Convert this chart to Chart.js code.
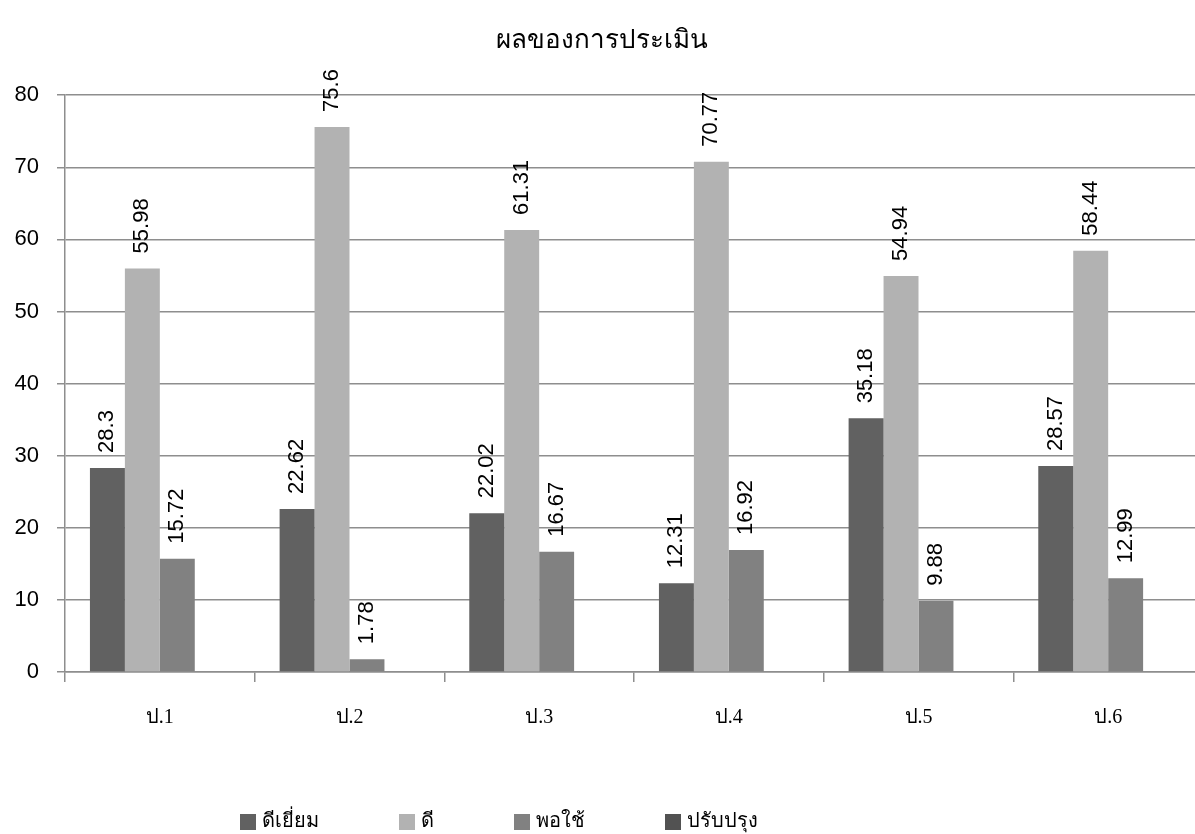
<!DOCTYPE html>
<html>
<head>
<meta charset="utf-8">
<script src="https://cdn.jsdelivr.net/npm/chart.js@4/dist/chart.umd.min.js"></script>
<style>
  html, body { margin: 0; padding: 0; background: #fff; overflow: hidden; }
  #wrap { width: 1203px; height: 834px; position: relative; }
</style>
</head>
<body>
<div id="wrap"><canvas id="resultChart"></canvas></div>
<script>
const grades = ['ป.1', 'ป.2', 'ป.3', 'ป.4', 'ป.5', 'ป.6'];
const excellent = [28.3, 22.62, 22.02, 12.31, 35.18, 28.57];
const good = [55.98, 75.6, 61.31, 70.77, 54.94, 58.44];
const fair = [15.72, 1.78, 16.67, 16.92, 9.88, 12.99];
const improve = [null, null, null, null, null, null];
const seriesNames = ['ดีเยี่ยม', 'ดี', 'พอใช้', 'ปรับปรุง'];
const seriesColors = ['#616161', '#b2b2b2', '#818181', '#525252'];

const gridColor = '#8e8e8e';

// value labels, rotated, just above each bar
const barLabels = {
  id: 'barLabels',
  afterDatasetsDraw(chart) {
    const ctx = chart.ctx;
    ctx.save();
    ctx.fillStyle = '#000';
    ctx.font = '22px "Liberation Sans", sans-serif';
    chart.data.datasets.forEach((ds, i) => {
      const meta = chart.getDatasetMeta(i);
      meta.data.forEach((bar, j) => {
        const v = ds.data[j];
        if (v == null) return;
        ctx.save();
        ctx.translate(bar.x, bar.y - 15);
        ctx.rotate(-Math.PI / 2);
        ctx.textAlign = 'left';
        ctx.textBaseline = 'middle';
        ctx.fillText(String(v), 0, 0);
        ctx.restore();
      });
    });
    ctx.restore();
  }
};

// legend row at the bottom, laid out like the original
const bottomLegend = {
  id: 'bottomLegend',
  afterDraw(chart) {
    const ctx = chart.ctx;
    ctx.save();
    ctx.font = '20px "DejaVu Sans", sans-serif';
    ctx.textBaseline = 'middle';
    let x = 240;
    const y = 822;
    chart.data.datasets.forEach(ds => {
      ctx.fillStyle = ds.backgroundColor;
      ctx.fillRect(x, y - 8, 16, 16);
      ctx.fillStyle = '#000';
      ctx.fillText(ds.label, x + 22, y);
      x += 22 + ctx.measureText(ds.label).width + 80;
    });
    ctx.restore();
  }
};

const ctx = document.getElementById('resultChart').getContext('2d');
new Chart(ctx, {
  type: 'bar',
  data: {
    labels: grades,
    datasets: [excellent, good, fair, improve].map((d, i) => ({
      label: seriesNames[i],
      data: d,
      backgroundColor: seriesColors[i],
      categoryPercentage: 0.737,
      barPercentage: 1
    }))
  },
  options: {
    responsive: true,
    maintainAspectRatio: false,
    animation: false,
    layout: { padding: { left: 0, right: 0, top: 0, bottom: 0 } },
    plugins: {
      title: {
        display: true,
        text: 'ผลของการประเมิน',
        color: '#000',
        font: { family: '"DejaVu Serif", serif', size: 26, weight: 'normal', lineHeight: 1.2 },
        padding: { top: 26, bottom: 38 }
      },
      legend: { display: false },
      tooltip: { enabled: false }
    },
    scales: {
      x: {
        grid: { display: true, drawOnChartArea: false, drawTicks: true, tickLength: 10, color: gridColor, lineWidth: 1.5 },
        border: { color: gridColor, width: 1.5 },
        ticks: { color: '#000', padding: 24, font: { family: '"Liberation Serif", serif', size: 20 } },
        afterFit: scale => { scale.height = 162; }
      },
      y: {
        min: 0,
        max: 80,
        ticks: { stepSize: 10, color: '#000', padding: 18, font: { family: '"Liberation Sans", sans-serif', size: 22 } },
        grid: { color: gridColor, lineWidth: 1.5, tickLength: 8 },
        border: { color: gridColor, width: 1.5 },
        afterFit: scale => { scale.width = 65; }
      }
    }
  },
  plugins: [barLabels, bottomLegend]
});
</script>
</body>
</html>
